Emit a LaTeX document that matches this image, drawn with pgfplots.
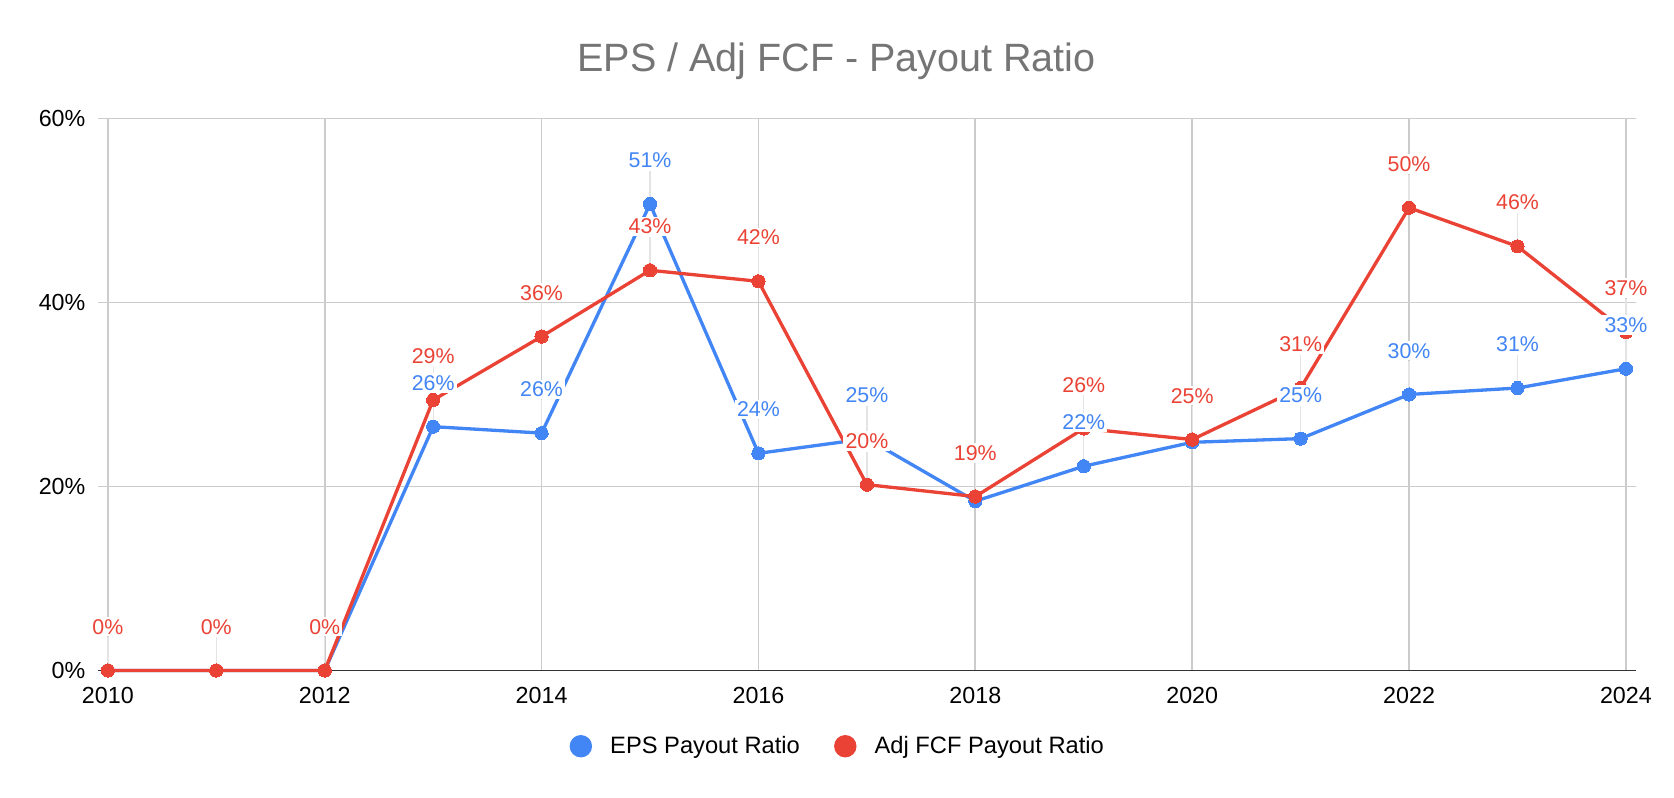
\documentclass[border=0pt]{standalone}
\usepackage{fontspec}
\setmainfont{Liberation Sans}
\usepackage{pgfplots}
\pgfplotsset{compat=1.18}
\definecolor{epsblue}{HTML}{4285F4}
\definecolor{fcfred}{HTML}{EA4335}
\definecolor{gridgray}{HTML}{CCCCCC}
\definecolor{titlegray}{HTML}{757575}
\definecolor{leadgray}{HTML}{E4E4E4}
\begin{document}
\begin{tikzpicture}
\useasboundingbox (0,0) rectangle (784pt,373.7pt);
\begin{axis}[
  at={(46pt,59.7pt)}, anchor=south west,
  scale only axis, width=720pt, height=258.5pt,
  xmin=2009.911, xmax=2024.089, ymin=0, ymax=60,
  axis line style={draw=none},
  xtick={2010,2012,2014,2016,2018,2020,2022,2024},
  xticklabels={2010,2012,2014,2016,2018,2020,2022,2024},
  ytick={20,40,60}, yticklabels={20\%,40\%,60\%},
  extra y ticks={0}, extra y tick labels={0\%},
  extra y tick style={grid style={draw=black!80, line width=0.85pt}},
  major tick length=0pt,
  grid=major, grid style={draw=gridgray, line width=0.8pt},
  tick label style={font=\fontsize{10.9}{13}\selectfont, text=black},
  xticklabel style={yshift=-4.2pt},
  yticklabel style={xshift=-2.5pt},
  legend columns=2,
  legend style={at={(0.4804,-0.1373)}, anchor=center, draw=none, fill=none,
    font=\fontsize{11.1}{13}\selectfont, nodes={inner sep=0pt},
    /tikz/every odd column/.append style={column sep=8.5pt},
    /tikz/every even column/.append style={column sep=16pt}},
  legend image code/.code={\fill[draw=none] (5.25pt,0pt) circle (5.25pt);},
  clip=false,
]
% leader lines
\addplot[draw=none, mark=none, forget plot,
  error bars/.cd, y dir=plus, y fixed=3.6, error mark=none,
  error bar style={draw=leadgray, line width=0.6pt}]
  coordinates {(2013,26.5) (2014,25.8) (2015,50.7) (2016,23.6) (2017,25.2) (2019,22.2) (2021,25.2) (2022,30.0) (2023,30.7) (2024,32.8)};
\addplot[draw=none, mark=none, forget plot,
  error bars/.cd, y dir=plus, y fixed=3.6, error mark=none,
  error bar style={draw=leadgray, line width=0.6pt}]
  coordinates {(2010,0) (2011,0) (2012,0) (2013,29.4) (2014,36.3) (2015,43.5) (2016,42.3) (2017,20.2) (2018,18.9) (2019,26.3) (2020,25.1) (2021,30.7) (2022,50.3) (2023,46.1) (2024,36.8)};
% lines
\addplot[color=epsblue, line width=1.55pt, mark=*, mark size=3.1pt, mark options={solid, line width=0pt}]
  coordinates {(2010,0) (2011,0) (2012,0) (2013,26.5) (2014,25.8) (2015,50.7) (2016,23.6) (2017,25.2) (2018,18.4) (2019,22.2) (2020,24.8) (2021,25.2) (2022,30.0) (2023,30.7) (2024,32.8)};
\addlegendentry{EPS Payout Ratio}
\addplot[color=fcfred, line width=1.55pt, mark=*, mark size=3.1pt, mark options={solid, line width=0pt}]
  coordinates {(2010,0) (2011,0) (2012,0) (2013,29.4) (2014,36.3) (2015,43.5) (2016,42.3) (2017,20.2) (2018,18.9) (2019,26.3) (2020,25.1) (2021,30.7) (2022,50.3) (2023,46.1) (2024,36.8)};
\addlegendentry{Adj FCF Payout Ratio}
% labels
\addplot[draw=none, mark=none, forget plot, point meta=explicit symbolic,
  nodes near coords,
  every node near coord/.append style={font=\fontsize{10}{12}\selectfont, text=epsblue, fill=white, inner sep=1pt, anchor=center, yshift=20.5pt}]
  coordinates {(2013,26.5)[26\%] (2014,25.8)[26\%] (2015,50.7)[51\%] (2016,23.6)[24\%] (2017,25.2)[25\%] (2019,22.2)[22\%] (2021,25.2)[25\%] (2022,30.0)[30\%] (2023,30.7)[31\%] (2024,32.8)[33\%]};
\addplot[draw=none, mark=none, forget plot, point meta=explicit symbolic,
  nodes near coords,
  every node near coord/.append style={font=\fontsize{10}{12}\selectfont, text=fcfred, fill=white, inner sep=1pt, anchor=center, yshift=20.5pt}]
  coordinates {(2010,0)[0\%] (2011,0)[0\%] (2012,0)[0\%] (2013,29.4)[29\%] (2014,36.3)[36\%] (2015,43.5)[43\%] (2016,42.3)[42\%] (2017,20.2)[20\%] (2018,18.9)[19\%] (2019,26.3)[26\%] (2020,25.1)[25\%] (2021,30.7)[31\%] (2022,50.3)[50\%] (2023,46.1)[46\%] (2024,36.8)[37\%]};
\end{axis}
\node[anchor=base, text=titlegray, font=\fontsize{18.5}{22}\selectfont] at (391.75pt,340pt) {EPS / Adj FCF - Payout Ratio};
\end{tikzpicture}
\end{document}
